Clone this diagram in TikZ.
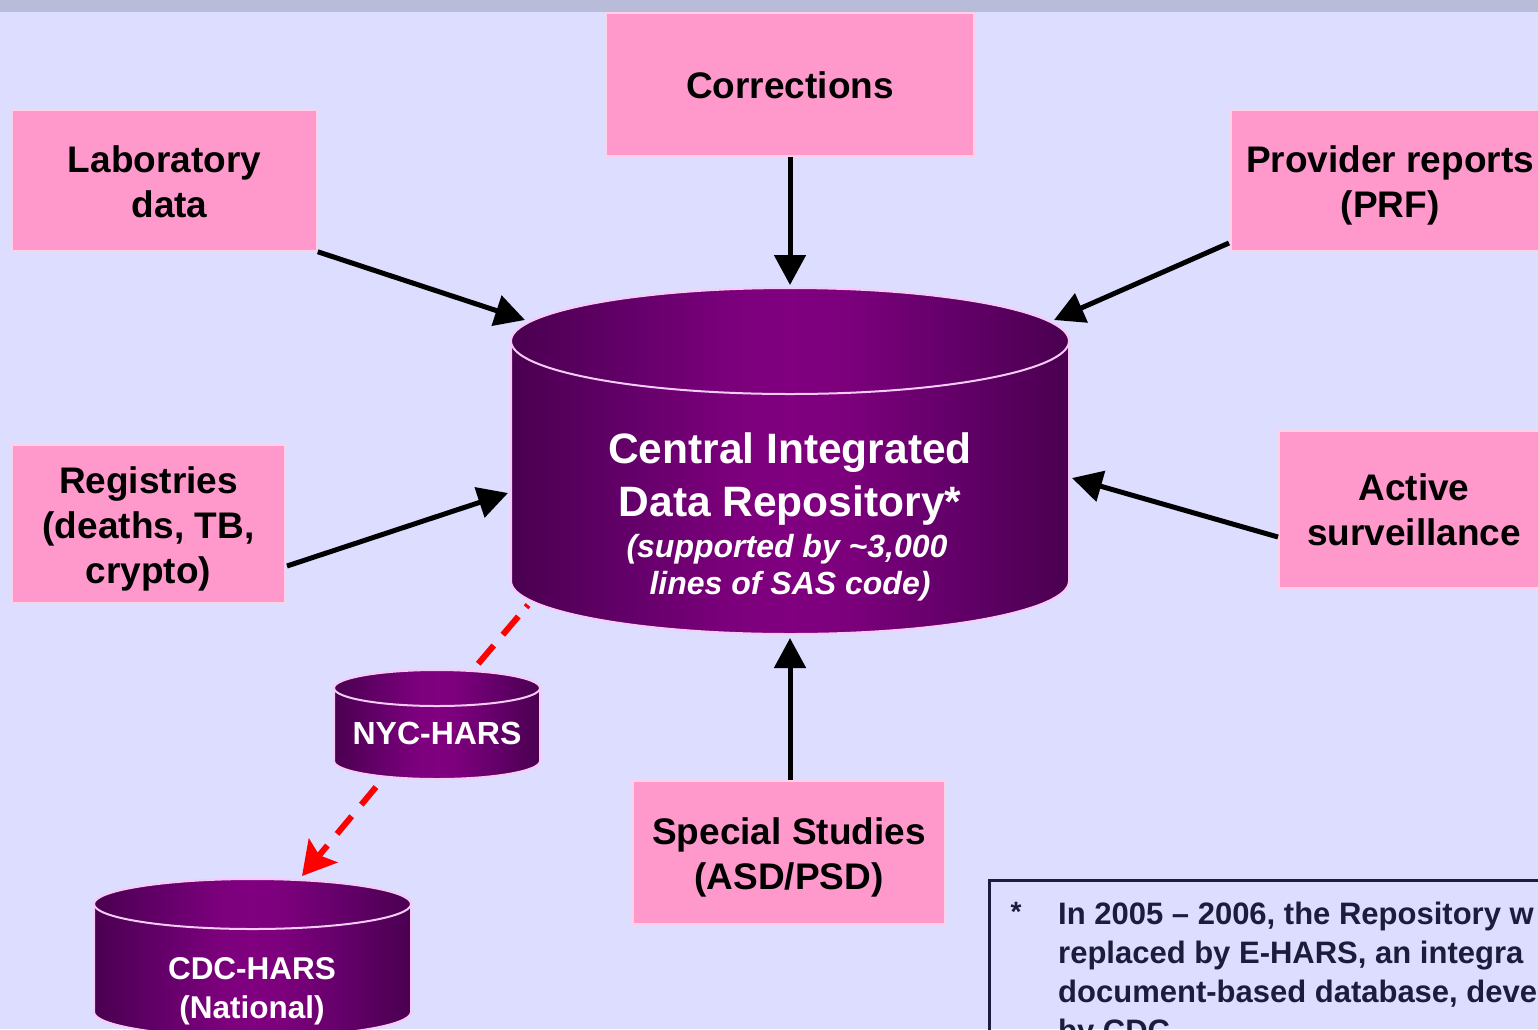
\documentclass[tikz,border=0pt]{standalone}
\usepackage{fontspec}
\setmainfont{Liberation Sans}
\usetikzlibrary{arrows.meta,calc}
\definecolor{bgc}{HTML}{DDDDFF}
\definecolor{barc}{HTML}{B9BCD9}
\definecolor{boxc}{HTML}{FF99CC}
\definecolor{boxline}{HTML}{FFD0E8}
\definecolor{cdark}{HTML}{4A0050}
\definecolor{cmidd}{HTML}{620068}
\definecolor{cbri}{HTML}{7C007C}
\definecolor{cmid}{HTML}{800080}
\definecolor{cline}{HTML}{F6CCF6}
\definecolor{notec}{HTML}{1C1C3C}
\pgfdeclarehorizontalshading{cylband}{100bp}{
  color(0bp)=(cdark); color(25bp)=(cdark); color(35bp)=(cmidd); color(45bp)=(cbri);
  color(50bp)=(cmid); color(55bp)=(cbri); color(65bp)=(cmidd); color(75bp)=(cdark); color(100bp)=(cdark)}
\tikzset{
  x=1pt,y=-1pt,
  srcbox/.style={draw=boxline,line width=1.5pt,fill=boxc,inner sep=0pt},
  srctext/.style={align=center,inner sep=0pt,text=black,font=\bfseries\fontsize{37}{45}\selectfont},
  cylshade/.style={shading=cylband,draw=cline,line width=2pt},
  cyltext/.style={align=center,inner sep=0pt,text=white},
  feed/.style={draw=black,line width=5pt,-{Triangle[length=30pt,width=31pt]}},
  reddash/.style={draw=red,line width=6pt},
}
\newcommand{\cylbody}[5]{% left, right, top-centre y, bottom-centre y, ry
  \path[cylshade] (#1,#3) -- (#1,#4) arc[start angle=180,end angle=360,x radius={(#2-#1)/2},y radius=-#5]
     -- (#2,#3) arc[start angle=0,end angle=180,x radius={(#2-#1)/2},y radius=#5*-1] -- cycle;
  \path[cylshade] ({(#1+#2)/2},#3) ellipse[x radius={(#2-#1)/2},y radius=#5];
}
\begin{document}
\begin{tikzpicture}
\useasboundingbox (0,0) rectangle (1538,1029);
\clip (0,0) rectangle (1538,1029);
\fill[bgc] (0,0) rectangle (1538,1029);
\fill[barc] (0,0) rectangle (1538,12);

% cylinders
\cylbody{511}{1069}{341}{581}{53}
\cylbody{334}{540}{688}{761}{18}
\cylbody{94}{411}{904}{1012}{25}

\node[cyltext,font=\bfseries\fontsize{42.5}{52}\selectfont] (repo) at (790,479) {Central Integrated\\Data Repository*};
\node[cyltext,font=\bfseries\itshape\fontsize{32}{37}\selectfont] (reposub) at (787,568) {(supported by \textasciitilde 3,000\\\hspace*{6pt}lines of SAS code)};
\node[cyltext,font=\bfseries\fontsize{32}{36}\selectfont] (nyc) at (437,733) {NYC-HARS};
\node[cyltext,font=\bfseries\fontsize{31.5}{39}\selectfont] (cdc) at (252,991) {CDC-HARS\\(National)};

% source boxes
\node[srcbox,minimum width=368pt,minimum height=143pt] (corr) at (790,84.5) {};
\node[srcbox,minimum width=305pt,minimum height=141pt] (lab) at (164.5,180.5) {};
\node[srcbox,minimum width=318pt,minimum height=141pt] (prov) at (1390,180.5) {};
\node[srcbox,minimum width=273pt,minimum height=158pt] (reg) at (148.5,524) {};
\node[srcbox,minimum width=270pt,minimum height=157pt] (act) at (1414,509.5) {};
\node[srcbox,minimum width=312pt,minimum height=143pt] (spec) at (789,852.5) {};
\node[srctext] (corrt) at ($(corr)+(0,1)$) {Corrections};
\node[srctext] (labt) at ($(lab)+(0,1)$) {Laboratory\\\hspace*{10pt}data};
\node[srctext] (provt) at ($(prov)+(0,5)$) {Provider reports\\(PRF)};
\node[srctext] (regt) at ($(reg)+(0,5)$) {Registries\\(deaths, TB,\\crypto)};
\node[srctext] (actt) at ($(act)+(0,0)$) {Active\\surveillance};
\node[srctext] (spect) at ($(spec)+(0,5)$) {Special Studies\\(ASD/PSD)};

% connector ends
\coordinate (repoNW) at (525,320);
\coordinate (repoN) at (790,285);
\coordinate (repoNE) at (1054,320);
\coordinate (repoW) at (508,493);
\coordinate (repoE) at (1072,478);
\coordinate (repoS) at (790,638);
\coordinate (repoSW) at (528,605);
\coordinate (nycN) at (478,664);
\coordinate (nycS) at (376,787);
\coordinate (cdcN) at (302,876);
\coordinate (provOut) at (1229,243);
\coordinate (regOut) at (287,566);
\coordinate (actOut) at (1278,537);

\draw[feed] (lab.south east) -- (repoNW);
\draw[feed] (corr.south) -- (repoN);
\draw[feed] (provOut) -- (repoNE);
\draw[feed] (regOut) -- (repoW);
\draw[feed] (actOut) -- (repoE);
\draw[feed] (spec.north -| repoS) -- (repoS);
\draw[reddash,dash pattern=on 3pt off 12pt on 24pt off 14pt on 24pt off 20pt] (repoSW) -- (nycN);
\draw[reddash,dash pattern=on 23pt off 15pt,-{Stealth[length=33pt,width=37pt,inset=6pt]}] (nycS) -- (cdcN);

% footnote
\draw[notec,line width=3pt] (1560,880.5) -- (989.5,880.5) -- (989.5,1050);
\node[anchor=base,inner sep=0pt,text=notec,font=\bfseries\fontsize{28}{39}\selectfont] (star) at (1016,921) {*};
\node[anchor=north west,align=left,inner sep=0pt,text=notec,font=\bfseries\fontsize{31}{39}\selectfont] (note) at (1058,902)
  {In 2005 -- 2006, the Repository w\\replaced by E-HARS, an integra\\document-based database, deve\\by CDC};
\end{tikzpicture}
\end{document}
